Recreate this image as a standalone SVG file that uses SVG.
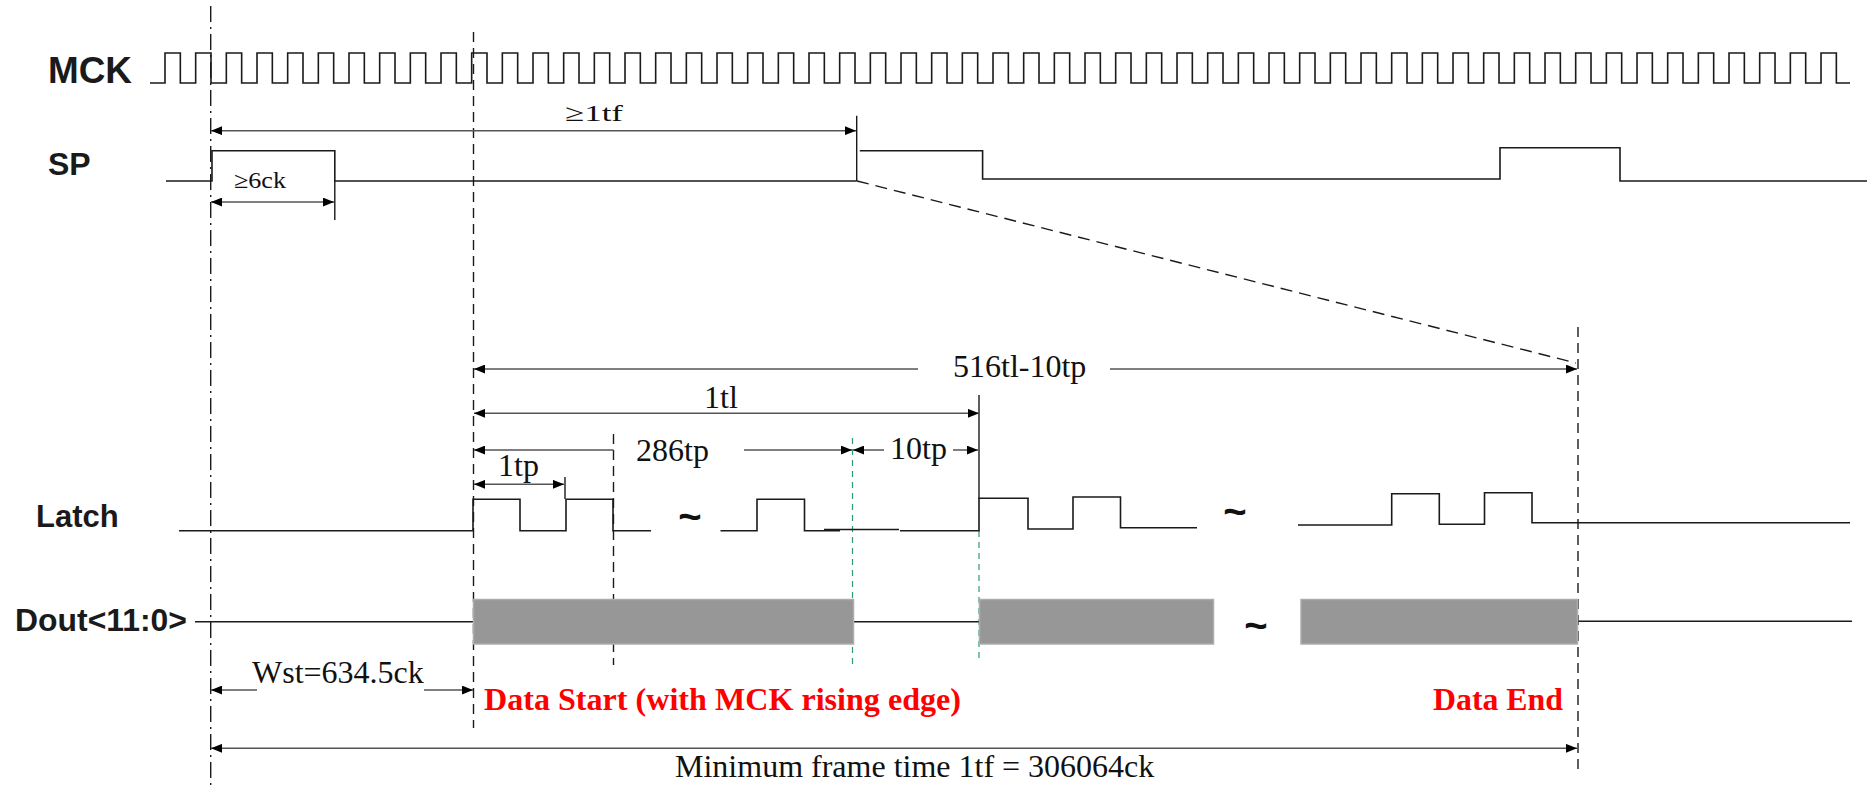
<svg xmlns="http://www.w3.org/2000/svg" width="1872" height="785" viewBox="0 0 1872 785">
<style>
.sig{fill:none;stroke:#1a1a1a;stroke-width:1.6}
.dim{fill:none;stroke:#555;stroke-width:1.5}
.ext{fill:none;stroke:#1a1a1a;stroke-width:1.4}
.dd{fill:none;stroke:#1a1a1a;stroke-width:1.4;stroke-dasharray:16 5 2 5}
.dash{fill:none;stroke:#1a1a1a;stroke-width:1.4;stroke-dasharray:10 6}
.gdash{fill:none;stroke:#2e9c70;stroke-width:1.2;stroke-dasharray:6 5}
.box{fill:#979797;stroke:#adadad;stroke-width:1.5}
.lab{font-family:"Liberation Sans",Arial,sans-serif;font-weight:bold;fill:#1a1a1a}
.ser{font-family:"Liberation Serif","Times New Roman",serif;fill:#111}
.red{font-family:"Liberation Serif","Times New Roman",serif;font-weight:bold;fill:#ff0000;font-size:31px}
.til{font-family:"Liberation Sans",Arial,sans-serif;font-weight:bold;font-size:40px;fill:#111;text-anchor:middle}
</style>
<defs>
<marker id="ah" viewBox="0 0 10 8" refX="10" refY="4" markerWidth="11" markerHeight="9" markerUnits="userSpaceOnUse" orient="auto-start-reverse"><path d="M0,0 L10,4 L0,8 z" fill="#000"/></marker>
</defs>
<rect width="1872" height="785" fill="#fff"/>

<g id="labels">
<text class="lab" x="48" y="83" font-size="37" textLength="84" lengthAdjust="spacingAndGlyphs">MCK</text>
<text class="lab" x="48" y="175" font-size="32">SP</text>
<text class="lab" x="36" y="527" font-size="31">Latch</text>
<text class="lab" x="15" y="631" font-size="31" textLength="172" lengthAdjust="spacingAndGlyphs">Dout&lt;11:0&gt;</text>
</g>

<g id="guides">
<path class="dd" d="M210.7,6 V785"/>
<path class="dash" d="M473.5,32 V728"/>
<path class="dash" d="M1578,327 V770"/>
<path class="dash" d="M613.5,434 V665"/>
<path class="gdash" d="M852.5,438 V667"/>
<path class="gdash" d="M979,531 V663"/>
<path class="dash" d="M857,181 L1576,363" style="stroke-dasharray:12 7"/>
</g>

<g id="MCK">
<path class="sig" d="M150,83 H165
V53h15.333V83h15.334V53h15.333V83h15.334V53h15.333V83h15.334V53h15.333V83h15.334V53h15.333V83h15.334V53h15.333V83h15.334
V53h15.333V83h15.334V53h15.333V83h15.334V53h15.333V83h15.334V53h15.333V83h15.334V53h15.333V83h15.334V53h15.333V83h15.334
V53h15.333V83h15.334V53h15.333V83h15.334V53h15.333V83h15.334V53h15.333V83h15.334V53h15.333V83h15.334V53h15.333V83h15.334
V53h15.333V83h15.334V53h15.333V83h15.334V53h15.333V83h15.334V53h15.333V83h15.334V53h15.333V83h15.334V53h15.333V83h15.334
V53h15.333V83h15.334V53h15.333V83h15.334V53h15.333V83h15.334V53h15.333V83h15.334V53h15.333V83h15.334V53h15.333V83h15.334
V53h15.333V83h15.334V53h15.333V83h15.334V53h15.333V83h15.334V53h15.333V83h15.334V53h15.333V83h15.334V53h15.333V83h15.334
V53h15.333V83h15.334V53h15.333V83h15.334V53h15.333V83h15.334V53h15.333V83h15.334V53h15.333V83h15.334V53h15.333V83h15.334
V53h15.333V83h15.334V53h15.333V83h15.334V53h15.333V83h15.334V53h15.333V83h15.334V53h15.333V83h15.334V53h15.333V83h15.334
V53h15.333V83h15.334V53h15.333V83h15.334V53h15.333V83h15.334V53h15.333V83h15.334V53h15.333V83h15.334V53h15.333V83h15.334
V53h15.333V83 H1850"/>
</g>

<g id="SP">
<path class="sig" d="M166,181 H212 V150.7 H334.8 V181 H856.7"/>
<path class="sig" d="M859.8,150.7 H982.6 V179 H1500 V147.7 H1620 V181 H1867"/>
</g>

<g id="Latch">
<path class="sig" d="M179,530.7 H473 V499.3 H520 V530.7 H566 V499.3 H613 V530.7 H651"/>
<path class="sig" d="M720.5,530.7 H757 V499.3 H804.5 V530.7 H840 M824,529.5 H899 M900,530.7 H979 V498.3 H1028 V529 H1073 V497 H1120.5 V527.7 H1197"/>
<path class="sig" d="M1298,525 H1391.7 V493.7 H1439.3 V524.3 H1484.5 V492.7 H1532 V522.7 H1850"/>
<text class="til" x="690" y="530">~</text>
<text class="til" x="1235" y="525">~</text>
</g>

<g id="Dout">
<path class="sig" d="M195,621.7 H473 M854,621.7 H979 M1576,621.3 H1852"/>
<rect class="box" x="473.5" y="599.5" width="380" height="44.5"/>
<rect class="box" x="979.5" y="599.5" width="234" height="44.5"/>
<rect class="box" x="1301" y="599.5" width="276.5" height="44.5"/>
<text class="til" x="1256" y="639">~</text>
</g>

<g id="connectors">
<path class="ext" d="M856.7,115.7 V181"/>
<path class="ext" d="M334.8,181 V220"/>
<path class="ext" d="M979,395 V499"/>
<path class="ext" d="M565,477 V499"/>
<path class="dim" d="M211,130.7 H856" marker-start="url(#ah)" marker-end="url(#ah)"/>
<path class="dim" d="M211,202 H334" marker-start="url(#ah)" marker-end="url(#ah)"/>
<path class="dim" d="M474,369 H918" marker-start="url(#ah)"/>
<path class="dim" d="M1110,369 H1577" marker-end="url(#ah)"/>
<path class="dim" d="M474,413.3 H979" marker-start="url(#ah)" marker-end="url(#ah)"/>
<path class="dim" d="M474,450 H613.5" marker-start="url(#ah)"/>
<path class="dim" d="M744,450 H852" marker-end="url(#ah)"/>
<path class="dim" d="M853,450 H884" marker-start="url(#ah)"/>
<path class="dim" d="M953,450 H978" marker-end="url(#ah)"/>
<path class="dim" d="M474,484.3 H564" marker-start="url(#ah)" marker-end="url(#ah)"/>
<path class="dim" d="M211,690 H257" marker-start="url(#ah)"/>
<path class="dim" d="M424,690 H473" marker-end="url(#ah)"/>
<path class="dim" d="M211,748.3 H1577" marker-start="url(#ah)" marker-end="url(#ah)"/>
</g>

<g id="dimension-labels">
<text class="ser" x="565" y="121" font-size="24" textLength="58" lengthAdjust="spacingAndGlyphs">≥1tf</text>
<text class="ser" x="234" y="188" font-size="23" textLength="52" lengthAdjust="spacingAndGlyphs">≥6ck</text>
<text class="ser" x="953" y="377" font-size="32">516tl-10tp</text>
<text class="ser" x="704" y="408" font-size="32">1tl</text>
<text class="ser" x="636" y="461" font-size="32">286tp</text>
<text class="ser" x="890" y="459" font-size="32">10tp</text>
<text class="ser" x="498" y="476" font-size="32">1tp</text>
<text class="ser" x="252" y="683" font-size="32">Wst=634.5ck</text>
<text class="ser" x="675" y="777" font-size="32">Minimum frame time 1tf = 306064ck</text>
<text class="red" x="484" y="710" textLength="477" lengthAdjust="spacingAndGlyphs">Data Start (with MCK rising edge)</text>
<text class="red" x="1433" y="710" textLength="130" lengthAdjust="spacingAndGlyphs">Data End</text>
</g>
</svg>
